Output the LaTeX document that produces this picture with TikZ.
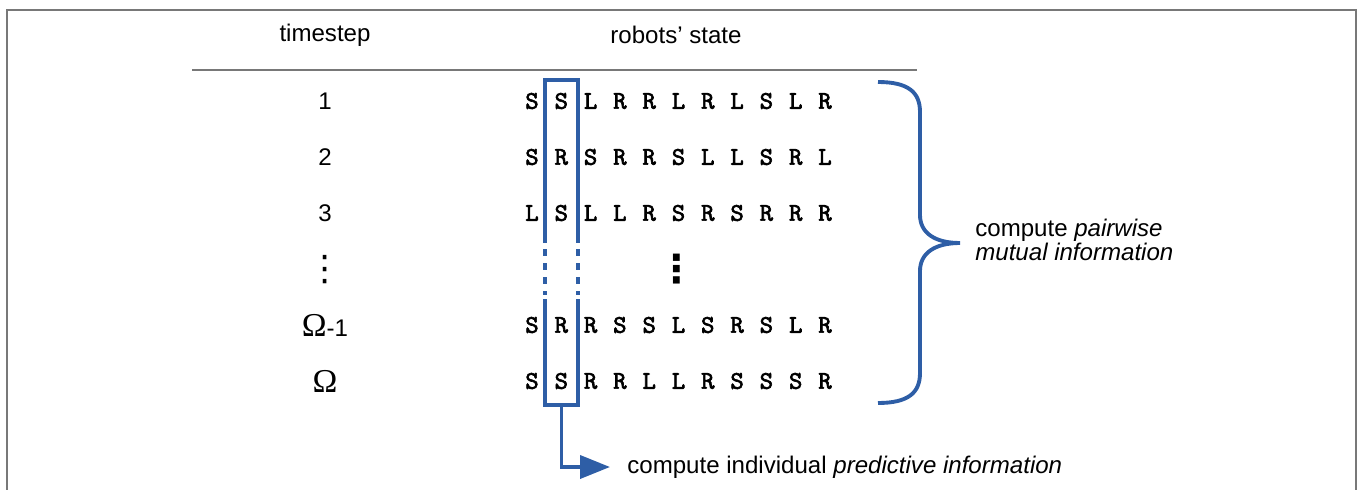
\documentclass[tikz,border=0pt]{standalone}
\usepackage{fontspec}
\setmainfont{Liberation Sans}
\newfontfamily\dotsfont{DejaVu Sans}
\newfontfamily\omegafont{Liberation Serif}
\newfontfamily\statefont{lmmono10-regular.otf}[AutoFakeBold=2.5]
\usetikzlibrary{positioning,calc,arrows.meta}
\definecolor{boxblue}{RGB}{46,94,166}
\definecolor{framegray}{RGB}{120,120,120}

\begin{document}
\begin{tikzpicture}[x=0.02cm,y=-0.02cm,
    txt/.style={font=\fontsize{13.7}{13.7}\selectfont, inner sep=0pt},
    st/.style={font=\statefont\bfseries\fontsize{14.5}{16}\selectfont, inner sep=0pt},
    vdot/.style={font=\dotsfont\fontsize{20}{20}\selectfont, inner sep=0pt},
    blueline/.style={boxblue, line width=2.2pt},
    grayline/.style={framegray, line width=0.9pt}]
    \useasboundingbox (0,0) rectangle (1360,490);

    % Frame
    \draw[grayline] (7,490) -- (7,10) -- (1356,10) -- (1356,490);

    % Header
    \node[txt] (hstep) at (325,35) {timestep};
    \node[txt] (hstate) at (676,35) {robots' state};
    \coordinate (rulel) at (192,70);
    \coordinate (ruler) at (917,70);
    \draw[grayline] (rulel) -- (ruler);

    % Timesteps
    \node[txt] (t1) at (325,101) {1};
    \node[txt] (t2) at (325,157) {2};
    \node[txt] (t3) at (325,213) {3};
    \node[vdot] (tdots) at (325,270) {⋮};
    \node[txt] (tlast1) at (325,325) {{\omegafont\fontsize{19}{19}\selectfont Ω}-1};
    \node[txt] (tlast) at (325,381) {{\omegafont\fontsize{19}{19}\selectfont Ω}};

    % Robots' states
    \foreach \r/\y/\seq in {1/101/{S,S,L,R,R,L,R,L,S,L,R},
                            2/157/{S,R,S,R,R,S,L,L,S,R,L},
                            3/213/{L,S,L,L,R,S,R,S,R,R,R},
                            5/325/{S,R,R,S,S,L,S,R,S,L,R},
                            6/381/{S,S,R,R,L,L,R,S,S,S,R}}
        \foreach \c [count=\i] in \seq
            \node[st] (s\r-\i) at ({532+29.3*(\i-1)},\y) {\c};
    \node[vdot, font=\dotsfont\bfseries\fontsize{22}{22}\selectfont] (sdots) at (677,269) {⋮};

    % Column box
    \coordinate (boxtl) at (545,80);
    \coordinate (boxtr) at (578,80);
    \coordinate (boxbl) at (545,405);
    \coordinate (boxbr) at (578,405);
    \coordinate (boxbot) at (561.5,405);
    \draw[blueline] (545,243) -- (boxtl) -- (boxtr) -- (578,243);
    \draw[blueline, dash pattern=on 4pt off 4pt] (545,249) -- (545,295);
    \draw[blueline, dash pattern=on 4pt off 4pt] (578,249) -- (578,295);
    \draw[blueline] (545,299) -- (boxbl) -- (boxbr) -- (578,299);

    % Predictive information
    \node[txt, anchor=west] (pred) at (627,467) {compute individual \textit{predictive information}};
    \draw[blueline, -{Triangle[length=0.6cm,width=0.46cm]}, shorten >=0.34cm]
        (boxbot) |- (pred.west);

    % Brace
    \coordinate (bracetip) at (960,243);
    \draw[blueline] (878,82) .. controls (908,82) and (920,92) .. (920,112)
        -- (920,215) .. controls (920,233) and (935,243) .. (bracetip)
        .. controls (935,243) and (920,253) .. (920,271)
        -- (920,373) .. controls (920,393) and (908,403) .. (878,403);
    \node[txt, anchor=west, align=left] (mutual) at (975,240)
        {compute \textit{pairwise}\\\textit{mutual information}};
\end{tikzpicture}
\end{document}
